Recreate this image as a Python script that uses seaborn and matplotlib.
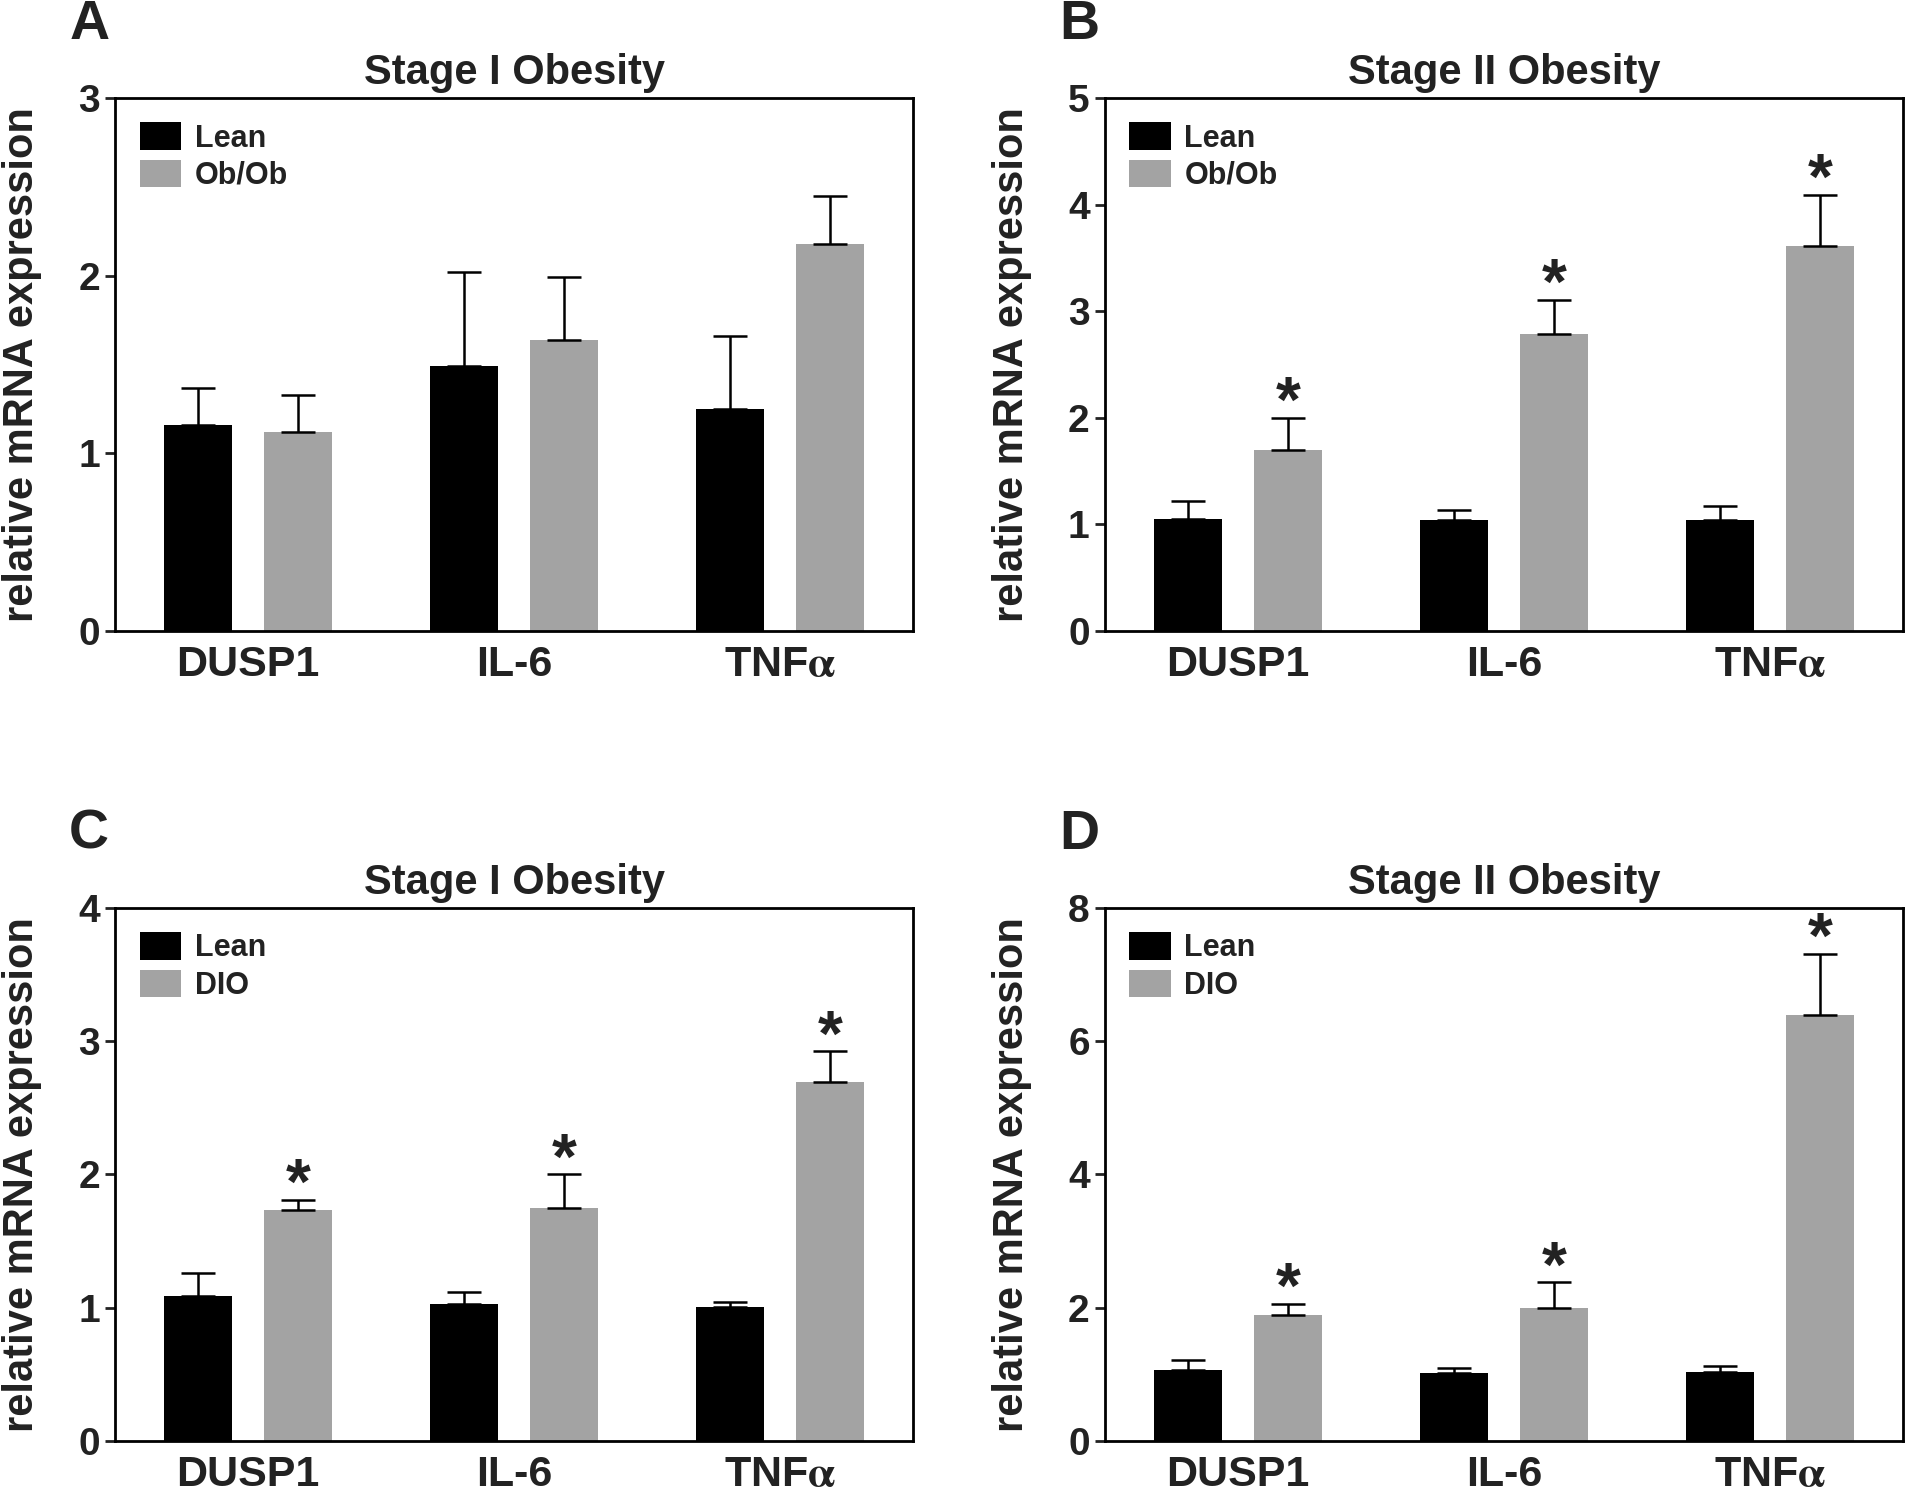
import numpy as np
import pandas as pd
import matplotlib
matplotlib.use("Agg")
import matplotlib.pyplot as plt
import seaborn as sns

# ------------------------------
# Data
# ------------------------------
genes = ["DUSP1", "IL-6", "TNFα"]

a_lean = [1.16, 1.49, 1.25]
a_lean_sem = [0.21, 0.53, 0.41]
a_ob = [1.12, 1.64, 2.18]
a_ob_sem = [0.21, 0.35, 0.27]

b_lean = [1.05, 1.04, 1.04]
b_lean_sem = [0.17, 0.10, 0.13]
b_ob = [1.70, 2.79, 3.61]
b_ob_sem = [0.30, 0.32, 0.48]

c_lean = [1.09, 1.03, 1.005]
c_lean_sem = [0.17, 0.085, 0.04]
c_dio = [1.73, 1.75, 2.69]
c_dio_sem = [0.08, 0.25, 0.235]

d_lean = [1.06, 1.02, 1.03]
d_lean_sem = [0.15, 0.08, 0.09]
d_dio = [1.89, 2.00, 6.40]
d_dio_sem = [0.17, 0.38, 0.91]

# significance stars for the second group in each panel
a_sig = [False, False, False]
b_sig = [True, True, True]
c_sig = [True, True, True]
d_sig = [True, True, True]

# ------------------------------
# Style
# ------------------------------
sns.set_theme(style="white")
plt.rcParams["font.family"] = ["Liberation Sans", "DejaVu Sans"]
plt.rcParams["font.weight"] = "bold"
plt.rcParams["mathtext.fontset"] = "stix"

BLACK = "#000000"
GRAY = "#a3a3a3"
TEXT = "#222222"

fig = plt.figure(figsize=(19.2, 14.94), dpi=100)

panels = [
    # letter, title, second group, lean, lean sem, other, other sem, sig, ymax, ystep, axes rect
    ("A", "Stage I Obesity", "Ob/Ob", a_lean, a_lean_sem, a_ob, a_ob_sem, a_sig, 3, 1,
     [0.0600, 0.5776, 0.4156, 0.3568]),
    ("B", "Stage II Obesity", "Ob/Ob", b_lean, b_lean_sem, b_ob, b_ob_sem, b_sig, 5, 1,
     [0.5755, 0.5776, 0.4156, 0.3568]),
    ("C", "Stage I Obesity", "DIO", c_lean, c_lean_sem, c_dio, c_dio_sem, c_sig, 4, 1,
     [0.0600, 0.0355, 0.4156, 0.3568]),
    ("D", "Stage II Obesity", "DIO", d_lean, d_lean_sem, d_dio, d_dio_sem, d_sig, 8, 2,
     [0.5755, 0.0355, 0.4156, 0.3568]),
]

for letter, title, other, lean, lean_sem, grp, grp_sem, sig, ymax, ystep, rect in panels:
    ax = fig.add_axes(rect)
    df = pd.DataFrame({
        "gene": genes * 2,
        "group": ["Lean"] * 3 + [other] * 3,
        "value": lean + grp,
        "sem": lean_sem + grp_sem,
    })
    sns.barplot(data=df, x="gene", y="value", hue="group", order=genes,
                hue_order=["Lean", other], palette=[BLACK, GRAY],
                width=0.75, gap=0.32, errorbar=None, linewidth=0,
                saturation=1, ax=ax)

    # error bars (upper only) and stars, placed on the drawn bars
    bars = ax.patches[:6]
    for bar, (_, row), star in zip(bars, df.iterrows(), [False] * 3 + sig):
        xc = bar.get_x() + bar.get_width() / 2
        top = bar.get_height()
        ax.errorbar(xc, top, yerr=[[0], [row["sem"]]], fmt="none",
                    ecolor="black", elinewidth=1.8, capsize=12, capthick=1.8)
        if star:
            ax.annotate("*", xy=(xc, top + row["sem"]), xytext=(0, -3),
                        textcoords="offset points", ha="center", va="baseline",
                        fontsize=46, fontweight="bold", color=TEXT)

    ax.set_xlim(-0.5, 2.5)
    ax.set_ylim(0, ymax)
    ax.set_yticks(np.arange(0, ymax + ystep / 2, ystep))
    ax.set_xticks(range(3))
    ax.set_xticklabels(["DUSP1", "IL-6", r"TNF$\mathrm{\alpha}$"], fontsize=31,
                       fontweight="bold", color=TEXT)
    ax.tick_params(axis="y", labelsize=28, colors=TEXT, length=7, width=2,
                   direction="out", left=True, pad=4)
    ax.tick_params(axis="x", length=0, pad=10)
    for lbl in ax.get_yticklabels():
        lbl.set_fontweight("bold")
        lbl.set_color(TEXT)
    for sp in ax.spines.values():
        sp.set_linewidth(2)
        sp.set_color("black")

    ax.set_xlabel("")
    ax.set_ylabel("relative mRNA expression", fontsize=30, fontweight="bold",
                  color=TEXT)
    ax.yaxis.set_label_coords(-0.092, 0.5)
    ax.set_title(title, fontsize=30, fontweight="bold", color=TEXT, pad=10)

    leg = ax.legend(loc="upper left", frameon=False,
                    handlelength=1.35, handleheight=1.0, labelspacing=0.2,
                    handletextpad=0.45, borderaxespad=0.6, borderpad=0.2,
                    prop={"weight": "bold", "size": 22})
    for txt in leg.get_texts():
        txt.set_color(TEXT)

    fig.text(rect[0] - 0.024, rect[1] + rect[3] + 0.049, letter, fontsize=40,
             fontweight="bold", color=TEXT, ha="left", va="center")

fig.savefig("out.png", dpi=100)
